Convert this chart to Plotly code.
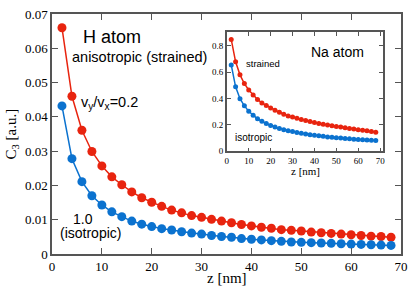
import plotly.graph_objects as go

z = list(range(2, 70, 2))

h_strained = [0.0660, 0.0460, 0.0361, 0.0299, 0.0257, 0.0225, 0.0202, 0.0181, 0.0164, 0.0151,
              0.0139, 0.0128, 0.0120, 0.0112, 0.0107, 0.0101, 0.0096, 0.0091, 0.0086, 0.0082,
              0.0078, 0.0075, 0.0071, 0.0069, 0.0067, 0.0064, 0.0062, 0.0060, 0.0058, 0.0056,
              0.0054, 0.0052, 0.0051, 0.0049]
h_iso = [0.0432, 0.0278, 0.0211, 0.0170, 0.0143, 0.0123, 0.0109, 0.0096, 0.0087, 0.0080,
         0.0074, 0.0070, 0.0065, 0.0061, 0.0058, 0.0054, 0.0051, 0.0049, 0.0045, 0.0043,
         0.0041, 0.0039, 0.0037, 0.0035, 0.0034, 0.0033, 0.0032, 0.0031, 0.0030, 0.0029,
         0.0028, 0.0027, 0.0026, 0.0025]

na_strained = [0.847, 0.678, 0.579, 0.513, 0.464, 0.427, 0.393, 0.366, 0.347, 0.327,
               0.310, 0.295, 0.281, 0.268, 0.259, 0.250, 0.241, 0.233, 0.225, 0.218,
               0.211, 0.205, 0.199, 0.193, 0.188, 0.183, 0.178, 0.173, 0.168, 0.164,
               0.159, 0.155, 0.149, 0.144]
na_iso = [0.654, 0.488, 0.398, 0.344, 0.303, 0.273, 0.246, 0.227, 0.210, 0.195,
          0.183, 0.173, 0.164, 0.156, 0.149, 0.142, 0.136, 0.131, 0.126, 0.121,
          0.117, 0.113, 0.109, 0.106, 0.103, 0.100, 0.097, 0.094, 0.092, 0.089,
          0.087, 0.085, 0.083, 0.081]

RED = "#e8240f"
BLUE = "#0b72cf"
AX = "#555555"
SERIF = "Liberation Serif"
SANS = "Liberation Sans"

fig = go.Figure()
fig.add_trace(go.Scatter(x=z, y=h_strained, mode="lines+markers",
                         line=dict(color=RED, width=1.5), marker=dict(color=RED, size=9),
                         xaxis="x", yaxis="y"))
fig.add_trace(go.Scatter(x=z, y=h_iso, mode="lines+markers",
                         line=dict(color=BLUE, width=1.5), marker=dict(color=BLUE, size=9),
                         xaxis="x", yaxis="y"))
fig.add_trace(go.Scatter(x=z, y=na_strained, mode="lines+markers",
                         line=dict(color=RED, width=1.5), marker=dict(color=RED, size=5),
                         xaxis="x2", yaxis="y2"))
fig.add_trace(go.Scatter(x=z, y=na_iso, mode="lines+markers",
                         line=dict(color=BLUE, width=1.5), marker=dict(color=BLUE, size=5),
                         xaxis="x2", yaxis="y2"))

axcommon = dict(showgrid=False, zeroline=False, showline=True, linecolor=AX, linewidth=1.5,
                mirror="allticks", ticks="inside", tickcolor=AX, tickwidth=1)

fig.update_layout(
    width=415, height=287,
    margin=dict(l=52, r=10, t=7, b=33),
    paper_bgcolor="white", plot_bgcolor="white",
    showlegend=False,
    xaxis=dict(domain=[0, 1], range=[0, 70], dtick=10, ticklen=6,
               tickfont=dict(family=SERIF, size=13, color="black"), **axcommon),
    yaxis=dict(domain=[0, 1], range=[0, 0.07], dtick=0.01, ticklen=6,
               tickfont=dict(family=SERIF, size=13, color="black"), **axcommon),
    xaxis2=dict(domain=[0.501, 0.949], anchor="y2", range=[0, 71.4], dtick=10, ticklen=4,
                tickfont=dict(family=SERIF, size=9, color="black"), **axcommon),
    yaxis2=dict(domain=[0.428, 0.923], anchor="x2", range=[0, 0.9], dtick=0.2, ticklen=4,
                tickfont=dict(family=SERIF, size=9, color="black"), **axcommon),
)

ann = [
    dict(text="z [nm]", x=0.5, y=-0.098, xref="paper", yref="paper", xanchor="center", yanchor="middle",
         font=dict(family=SERIF, size=15, color="black")),
    dict(text="C<sub>3</sub> [a.u.]", x=-0.116, y=0.5, xref="paper", yref="paper", xanchor="center",
         yanchor="middle", textangle=-90, font=dict(family=SERIF, size=15, color="black")),
    dict(text="H atom", x=12, y=0.0634, xref="x", yref="y", xanchor="center", yanchor="middle",
         font=dict(family=SANS, size=18, color="black")),
    dict(text="anisotropic (strained)", x=17.5, y=0.0574, xref="x", yref="y", xanchor="center",
         yanchor="middle", font=dict(family=SANS, size=14.5, color="black")),
    dict(text="v<sub>y</sub>/v<sub>x</sub>=0.2", x=11.5, y=0.0441, xref="x", yref="y", xanchor="center",
         yanchor="middle", font=dict(family=SANS, size=14.5, color="black")),
    dict(text="1.0", x=6.3, y=0.0103, xref="x", yref="y", xanchor="center", yanchor="middle",
         font=dict(family=SANS, size=14, color="black")),
    dict(text="(isotropic)", x=7.7, y=0.0060, xref="x", yref="y", xanchor="center", yanchor="middle",
         font=dict(family=SANS, size=14, color="black")),
    dict(text="Na atom", x=50.6, y=0.752, xref="x2", yref="y2", xanchor="center", yanchor="middle",
         font=dict(family=SANS, size=14, color="black")),
    dict(text="strained", x=16.6, y=0.667, xref="x2", yref="y2", xanchor="center", yanchor="middle",
         font=dict(family=SANS, size=9.5, color="black")),
    dict(text="isotropic", x=12.0, y=0.105, xref="x2", yref="y2", xanchor="center", yanchor="middle",
         font=dict(family=SANS, size=10, color="black")),
    dict(text="z [nm]", x=35.8, y=-0.165, xref="x2", yref="y2 domain", xanchor="center", yanchor="middle",
         font=dict(family=SERIF, size=11, color="black")),
]
for a in ann:
    a["showarrow"] = False
fig.update_layout(annotations=ann)

fig.write_html("out.html", config={"displayModeBar": False},
               post_script="document.body.style.margin='0';document.body.style.overflow='hidden';")
